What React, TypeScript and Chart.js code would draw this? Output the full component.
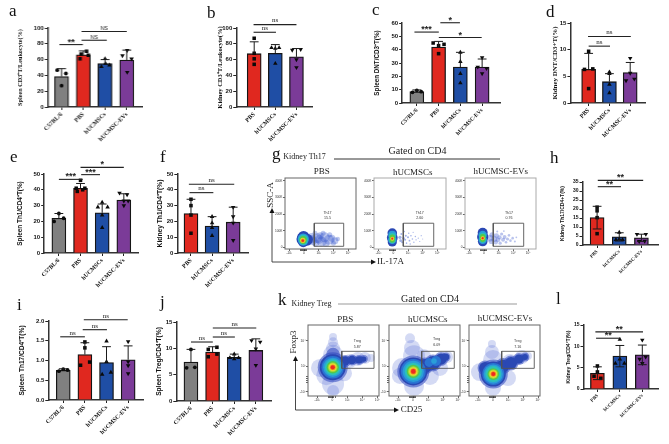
import React, { useEffect, useRef } from "react";
import { Chart, registerables } from "chart.js";
Chart.register(...registerables);

const catsFour = ["C57BL/6", "PBS", "hUCMSCs", "hUCMSC-EVs"];
const catsThree = ["PBS", "hUCMSCs", "hUCMSC-EVs"];

const aMeans = [38.5, 66, 55, 59.5];
const aSd = [10, 5, 5, 12.5];
const aPoints = [[[-0.2, 46.6], [0.2, 42.4], [0, 27]], [[-0.15, 61], [-0.1, 67], [0.15, 70.6], [0.23, 65.5]], [[0, 61], [-0.17, 51], [0.2, 53], [0.02, 55]], [[0.02, 71.8], [-0.2, 65], [0.22, 61], [0.02, 44]]];
const aSig = [[-0.1, 0.98, 79, "**"], [0.92, 2.08, 84.5, "NS"], [0.92, 3.0, 95.5, "NS"]];

const bMeans = [67.5, 68, 63.5];
const bSd = [15, 11, 10.5];
const bPoints = [[[0, 87], [0, 68], [0, 61], [0, 54]], [[-0.18, 75], [0.18, 75], [0, 74], [0, 55]], [[-0.2, 72], [0.2, 73], [0, 60], [0, 50]]];
const bSig = [[-0.03, 1.03, 94.6, "ns"], [-0.03, 2.0, 104.3, "ns"]];

const cMeans = [8.5, 42, 27, 27];
const cSd = [1.3, 4.2, 11, 6];
const cPoints = [[[-0.2, 8], [0, 9.5], [0.2, 8.5]], [[-0.25, 45], [0, 43], [0.25, 44], [0, 37]], [[0, 38], [0, 31], [0, 22], [0, 15]], [[0, 34], [-0.2, 27], [0.2, 26], [0, 22]]];
const cSig = [[-0.11, 1.01, 53.2, "***"], [1.08, 1.98, 60.2, "*"], [1.01, 2.98, 49.1, "*"]];

const dMeans = [6.3, 4, 5.7];
const dSd = [3, 1.5, 1.9];
const dPoints = [[[0, 9.7], [-0.2, 6.3], [0.2, 6.4], [0, 2.7]], [[0, 5.8], [0, 5.5], [0, 3.5], [0, 1.9]], [[0, 8.4], [0, 5.6], [-0.2, 4.2], [0.2, 4.5]]];
const dSig = [[0, 1.03, 10.66, "ns"], [-0.03, 2.03, 12.47, "ns"]];

const eMeans = [22, 41, 25.5, 33.5];
const eSd = [3, 3, 5.5, 4];
const ePoints = [[[0, 25], [0.22, 22], [-0.22, 20]], [[0, 46], [-0.2, 41], [0.2, 41], [-0.15, 39], [0.1, 40]], [[0, 32], [-0.2, 29], [0.25, 29], [0, 24], [0, 16]], [[-0.2, 38], [0.15, 37], [0, 33], [0.2, 33], [0, 30]]];
const eSig = [[0, 1.1, 46.6, "***"], [1.03, 1.9, 49.6, "***"], [1, 3, 54.2, "*"]];

const fMeans = [25, 17, 19.5];
const fSd = [9, 6, 9.5];
const fPoints = [[[0, 34], [0, 30], [0, 24], [0, 12.5]], [[0, 23], [0, 19], [0, 16], [0, 11]], [[0, 29], [0, 23], [0, 19], [0, 8]]];
const fSig = [[-0.07, 1.06, 38.2, "ns"], [-0.1, 2.05, 43.5, "ns"]];

const hMeans = [15.2, 4.5, 4];
const hSd = [6.3, 2.3, 2];
const hPoints = [[[0, 21], [0, 19], [0, 15.2], [0, 6.3]], [[0, 7], [-0.15, 3], [0.15, 3], [0, 3.2]], [[-0.2, 6], [0.2, 6], [-0.1, 2], [0.15, 2.2]]];
const hSig = [[0.03, 1.08, 32.4, "**"], [0.03, 2.08, 35.9, "**"]];

const iMeans = [0.75, 1.15, 0.95, 1.02];
const iSd = [0.04, 0.3, 0.4, 0.35];
const iPoints = [[[-0.2, 0.73], [0, 0.78], [0.2, 0.76]], [[0, 1.47], [0, 1.32], [0.22, 0.96], [-0.2, 0.88]], [[0, 1.49], [0, 0.97], [0.2, 0.7], [-0.2, 0.65]], [[0, 1.48], [0, 0.97], [0, 0.87], [0, 0.67]]];
const iSig = [[-0.14, 1, 1.6, "ns"], [0.9, 2.02, 1.78, "ns"], [0.95, 2.98, 2.03, "ns"]];

const jMeans = [7.4, 9.3, 8.3, 9.6];
const jSd = [2.4, 1, 0.6, 2.2];
const jPoints = [[[0, 9.8], [-0.2, 6.3], [0.18, 6.4]], [[0.2, 10.2], [-0.2, 9.8], [-0.2, 8.4], [0.2, 8.9]], [[0, 8.9], [-0.2, 8.2], [0.2, 8.2], [0, 8]], [[-0.2, 11.5], [0.2, 11.2], [0, 9.9], [0, 6.8]]];
const jSig = [[0, 1.01, 11.2, "ns"], [1.01, 2.03, 12.15, "ns"], [1.01, 3.02, 13.85, "ns"]];

const lMeans = [3.7, 7.7, 8];
const lSd = [1.5, 2.5, 2.3];
const lPoints = [[[0, 5.4], [0, 4], [-0.15, 3], [0.15, 2.5]], [[0, 11.6], [-0.2, 6], [0.2, 6], [0, 7]], [[0, 11.5], [-0.12, 7], [0.15, 7.5], [0, 6]]];
const lSig = [[-0.06, 1.03, 11.9, "**"], [-0.09, 2.03, 13.4, "**"]];

const groupColor: Record<string, string> = { "C57BL/6": "#808080", PBS: "#e0281f", hUCMSCs: "#1f4ea5", "hUCMSC-EVs": "#7b3b98" };
const groupMark: Record<string, any> = {
  "C57BL/6": { pointStyle: "circle", radius: 1.9, rot: 0 },
  PBS: { pointStyle: "rect", radius: 2.5, rot: 0 },
  hUCMSCs: { pointStyle: "triangle", radius: 2.6, rot: 0 },
  "hUCMSC-EVs": { pointStyle: "triangle", radius: 2.6, rot: 180 },
};
const SERIF = "'Liberation Serif'";
const SANS = "'Liberation Sans'";

const panels = [
  { title: "Spleen CD3⁺T/Leukocyte(%)", tf: SERIF, ts: 6.2, gap: 27.5, cats: catsFour, means: aMeans, sd: aSd, pts: aPoints, sig: aSig, sigFont: SANS, max: 100, step: 20, L: 48, R: 142, T: 28, B: 107, c0: 61.7, dc: 21.7, down: false, xf: 6, yf: 6 },
  { title: "Kidney CD3⁺T/Leukocyte(%)", tf: SERIF, ts: 6.5, gap: 16, cats: catsThree, means: bMeans, sd: bSd, pts: bPoints, sig: bSig, sigFont: SERIF, max: 100, step: 20, L: 236, R: 312, T: 28, B: 107, c0: 254, dc: 21.2, down: false, xf: 6, yf: 6 },
  { title: "Spleen DNT/CD3⁺T(%)", tf: SANS, ts: 6.3, gap: 25, cats: catsFour, means: cMeans, sd: cSd, pts: cPoints, sig: cSig, sigFont: SANS, max: 60, step: 10, L: 402, R: 500, T: 23, B: 103, c0: 416.7, dc: 21.8, down: false, xf: 5.6, yf: 6 },
  { title: "Kidney DNT/CD3+T(%)", tf: SERIF, ts: 6.9, gap: 15, cats: catsThree, means: dMeans, sd: dSd, pts: dPoints, sig: dSig, sigFont: SERIF, max: 15, step: 5, L: 570, R: 645, T: 23, B: 103, c0: 588.3, dc: 20.9, down: false, xf: 6, yf: 6 },
  { title: "Spleen Th1/CD4⁺T(%)", tf: SANS, ts: 6.4, gap: 24, cats: catsFour, means: eMeans, sd: eSd, pts: ePoints, sig: eSig, sigFont: SANS, max: 50, step: 10, L: 44, R: 138, T: 174, B: 253, c0: 58.7, dc: 21.7, down: false, xf: 6, yf: 6 },
  { title: "Kidney Th1/CD4⁺T(%)", tf: SANS, ts: 6.7, gap: 17, cats: catsThree, means: fMeans, sd: fSd, pts: fPoints, sig: fSig, sigFont: SERIF, max: 50, step: 10, L: 177, R: 248, T: 174, B: 253, c0: 190.7, dc: 21.2, down: false, xf: 6, yf: 6 },
  { title: "Kidney Th17/CD4+T(%)", tf: SANS, ts: 5, gap: 20, cats: catsThree, means: hMeans, sd: hSd, pts: hPoints, sig: hSig, sigFont: SANS, max: 35, step: 5, L: 582, R: 658, T: 182, B: 245, c0: 596.7, dc: 22.3, down: true, xf: 4.8, yf: 5 },
  { title: "Spleen Th17/CD4⁺T(%)", tf: SANS, ts: 6.6, gap: 26, cats: catsFour, means: iMeans, sd: iSd, pts: iPoints, sig: iSig, sigFont: SERIF, max: 2, step: 0.5, L: 48, R: 143, T: 321, B: 400, c0: 63, dc: 21.7, down: false, xf: 6, yf: 6, dec: 1 },
  { title: "Spleen Treg/CD4⁺T(%)", tf: SANS, ts: 6.6, gap: 17, cats: catsFour, means: jMeans, sd: jSd, pts: jPoints, sig: jSig, sigFont: SERIF, max: 15, step: 5, L: 176, R: 271, T: 322, B: 401, c0: 190.7, dc: 21.7, down: false, xf: 6, yf: 6 },
  { title: "Kidney Treg/CD4⁺T(%)", tf: SANS, ts: 5, gap: 15, cats: catsThree, means: lMeans, sd: lSd, pts: lPoints, sig: lSig, sigFont: SANS, max: 15, step: 5, L: 583, R: 658, T: 325, B: 389, c0: 597, dc: 22.6, down: true, xf: 4.8, yf: 5 },
];

// flow plot layers: [x, y, r]
const flowTicksXLabels = ["-10³", "0", "10³", "10⁴", "10⁵"];
const flowMinorTicks = [-0.25, -0.18, -0.11, -0.04, 0.04, 0.11, 0.18];
const fHalo = "rgba(60,85,205,0.22)", fSoft = "rgba(44,70,190,0.55)", fBlue = "#2a48b4", fMid = "#2a74d2", fLight = "#2a9ed8", fCyan = "#2cc2b8", fGreen = "#55c84a", fLime = "#a8d838", fYellow = "#ece030", fOrange = "#f09022", fRed = "#ee2a20";

const g1Tail = [[0.6, 40, 4.5], [0.9, 55, 5], [1.2, 35, 5], [1.4, 60, 5], [1.7, 45, 5], [0.8, 25, 3.5], [1.1, 70, 3.5], [1.5, 25, 3.5], [1.9, 55, 3.5], [2.1, 40, 3.5], [0.5, 65, 3.5], [2.0, 25, 2.5], [1.3, 85, 2.5], [0.75, 85, 2.5], [1.75, 75, 2.5], [2.3, 50, 2.2], [0.6, 50, 4], [1.05, 48, 4.5]];
const g2Tail = [[0.45, 60, 1.6], [0.5, 40, 1.4], [0.55, 80, 1], [0.6, 30, 1], [0.7, 55, 1.2], [0.75, 95, 0.7], [0.8, 45, 1], [0.85, 70, 1], [0.9, 25, 0.8], [1.0, 60, 1], [1.05, 85, 0.7], [1.1, 40, 0.9], [1.15, 20, 0.7], [1.2, 70, 0.8], [1.3, 50, 0.8], [1.35, 90, 0.6], [1.4, 30, 0.7], [1.5, 65, 0.7], [1.55, 45, 0.7], [1.7, 55, 0.6], [1.8, 35, 0.6], [1.9, 70, 0.6], [2.0, 50, 0.5]];
const g3Tail = [[0.4, 55, 3.4], [0.5, 35, 2.6], [0.55, 75, 2.6], [0.7, 50, 3], [0.8, 30, 2.2], [0.85, 70, 2.4], [0.95, 45, 2.4], [1.05, 60, 2.2], [1.1, 25, 1.6], [1.2, 80, 1.6], [1.3, 45, 2], [1.4, 62, 1.9], [1.5, 30, 1.3], [1.6, 50, 1.6], [1.7, 72, 1.3], [1.8, 40, 1.3], [1.95, 55, 1.3], [2.1, 35, 1], [2.2, 60, 0.9], [0.9, 95, 1], [1.35, 98, 0.9]];

const g1Layers = [
  ["rgba(60,90,205,0.34)", g1Tail],
  [fBlue, [[-0.05, 50, 6.8], [-0.03, 62, 6], [-0.05, 30, 5], [0.2, 46, 6]]],
  [fLight, [[-0.05, 50, 5.6], [-0.05, 40, 5]]],
  [fCyan, [[-0.05, 48, 4.6], [-0.05, 40, 4]]],
  [fGreen, [[-0.06, 46, 3.7], [-0.06, 38, 3]]],
  [fYellow, [[-0.08, 42, 2.6]]],
  [fOrange, [[-0.08, 41, 1.9]]],
  [fRed, [[-0.08, 40, 1.2]]],
];
const g2Layers = [
  ["rgba(70,100,210,0.5)", g2Tail],
  [fBlue, [[-0.07, 86, 4.8], [-0.07, 57, 5.4], [-0.07, 32, 4.6]]],
  [fLight, [[-0.07, 75, 4], [-0.07, 45, 4.2]]],
  [fCyan, [[-0.07, 66, 3.4], [-0.07, 45, 3.4]]],
  [fGreen, [[-0.07, 60, 2.8], [-0.07, 44, 2.6]]],
  [fYellow, [[-0.07, 52, 2]]],
  [fOrange, [[-0.07, 52, 1.4]]],
  [fRed, [[-0.07, 52, 0.8]]],
];
const g3Layers = [
  ["rgba(60,90,205,0.36)", g3Tail],
  [fBlue, [[-0.09, 88, 5], [-0.09, 62, 5.6], [-0.09, 35, 4.8]]],
  [fLight, [[-0.09, 75, 4.2], [-0.09, 45, 4.2]]],
  [fCyan, [[-0.09, 66, 3.5], [-0.09, 48, 3.4]]],
  [fGreen, [[-0.09, 62, 2.9], [-0.09, 48, 2.6]]],
  [fYellow, [[-0.09, 55, 2]]],
  [fOrange, [[-0.09, 55, 1.5]]],
  [fRed, [[-0.09, 55, 0.9]]],
];
const k1Layers = [
  [fHalo, [[0.05, 3.3, 4], [0.05, 2.9, 5], [0.05, 2.4, 7], [0.05, 1.9, 10], [0.05, -0.4, 11], [0.05, -0.95, 6], [-0.82, 0.87, 9], [-0.4, 0.3, 10], [0.78, 0.45, 8], [1.18, 1.42, 7], [1.7, 1.57, 7], [2.17, 1.65, 6], [2.57, 1.65, 4]]],
  [fSoft, [[0.03, 0.92, 15], [0.85, 1.42, 6], [1.31, 1.5, 5.5], [1.78, 1.5, 5], [2.1, 1.57, 4], [0.05, 1.9, 7]]],
  [fBlue, [[0.03, 0.92, 13], [0.85, 1.42, 4.6], [1.31, 1.5, 4.2], [1.78, 1.5, 3.6], [2.1, 1.57, 2.6]]],
  [fMid, [[0.03, 0.92, 11.2]]],
  [fLight, [[0.03, 0.92, 9.6]]],
  [fCyan, [[0.03, 0.92, 8]]],
  [fGreen, [[0.03, 0.92, 6.2]]],
  [fLime, [[0.03, 0.92, 4.8]]],
  [fYellow, [[0.03, 0.92, 3.7]]],
  [fOrange, [[0.03, 0.92, 2.9]]],
  [fRed, [[0.03, 0.92, 2.1]]],
];
const k2Layers = [
  [fHalo, [[-0.2, 3.2, 5], [-0.07, 2.44, 8], [0.07, 1.8, 11], [-0.73, 0.87, 10], [-0.87, 0.24, 8], [0.07, -0.55, 10], [1.13, 0.24, 9], [1.8, 0.87, 8], [0.73, 1.8, 7], [2.27, 1.73, 6]]],
  [fSoft, [[0.02, 0.6, 16], [0.8, 1.02, 8.5], [1.33, 1.26, 8.5], [1.87, 1.57, 7], [2.2, 1.73, 4.5]]],
  [fBlue, [[0.02, 0.6, 14], [0.8, 1.02, 7], [1.33, 1.26, 7], [1.87, 1.57, 5.6], [2.2, 1.73, 3.2]]],
  [fMid, [[0.02, 0.6, 12.4], [1.07, 1.3, 4.4], [1.53, 1.42, 5]]],
  [fLight, [[0.02, 0.6, 10.6], [1.4, 1.42, 2.8]]],
  [fCyan, [[0.02, 0.6, 8.6]]],
  [fGreen, [[0.02, 0.6, 6.6]]],
  [fLime, [[0.02, 0.6, 5.2]]],
  [fYellow, [[0.02, 0.6, 4]]],
  [fOrange, [[0.02, 0.6, 3.1]]],
  [fRed, [[0.02, 0.6, 2.3]]],
];
const k3Layers = [
  [fHalo, [[-0.07, 2.76, 4], [-0.07, 2.13, 7], [0, 1.5, 10], [-0.87, 0.55, 9], [0, -0.7, 8], [1, 0.08, 8], [1.13, 1.34, 8], [1.93, 1.73, 7], [2.33, 1.81, 4]]],
  [fSoft, [[0.02, 0.39, 14.5], [-0.53, 0.87, 7.5], [0.67, 1.02, 8], [1.2, 1.26, 7.5], [1.73, 1.57, 6], [2.13, 1.73, 4.5]]],
  [fBlue, [[0.02, 0.39, 12.5], [-0.53, 0.87, 6], [0.67, 1.02, 6.4], [1.2, 1.26, 6], [1.73, 1.57, 4.6], [2.13, 1.73, 3]]],
  [fMid, [[0.02, 0.39, 11]]],
  [fLight, [[0.02, 0.39, 9.6]]],
  [fCyan, [[0.02, 0.39, 8]]],
  [fGreen, [[0.02, 0.39, 5.9]]],
  [fLime, [[0.02, 0.39, 4.6]]],
  [fYellow, [[0.02, 0.39, 3.6]]],
  [fOrange, [[0.02, 0.39, 2.8]]],
  [fRed, [[0.02, 0.39, 2]]],
];

const gYTicks = [0, 100, 200, 300, 400];
const gYLabels = ["0", "100K", "200K", "300K", "400K"];
const kYTicks = [-1, 0, 1, 2, 3, 4];
const kYLabels = ["-10²", "0", "10²", "10³", "10⁴", "10⁵"];
const xTicks = [-1, 0, 1, 2, 3];

const flows = [
  { layers: g1Layers, gate: [0.7, 2.7, 6, 145], text: ["Th17", "15.5"], tx: 1.6, ty: [206, 175], L: 285, R: 356, T: 178, B: 249, x0: 304, xu: 14.7, y0: 247.3, yu: 0.166, yt: gYTicks, yl: gYLabels, box: "#666", minorY: false },
  { layers: g2Layers, gate: [0.68, 2.75, 6, 145], text: ["Th17", "2.60"], tx: 1.8, ty: [206, 175], L: 374, R: 446, T: 178, B: 249, x0: 393.3, xu: 14.7, y0: 247.3, yu: 0.166, yt: gYTicks, yl: gYLabels, box: "#aaa", minorY: false },
  { layers: g3Layers, gate: [0.63, 2.7, 6, 145], text: ["Th17", "0.76"], tx: 1.7, ty: [206, 175], L: 465, R: 536, T: 178, B: 249, x0: 484, xu: 14.7, y0: 247.3, yu: 0.166, yt: gYTicks, yl: gYLabels, box: "#aaa", minorY: false },
  { layers: k1Layers, gate: [0.63, 2.78, 0.84, 2.18], text: ["Treg", "5.87"], tx: 1.67, ty: [2.97, 2.5], L: 308, R: 379, T: 325, B: 396, x0: 332.3, xu: 15, y0: 379, yu: 12.7, yt: kYTicks, yl: kYLabels, box: "#666", minorY: true },
  { layers: k2Layers, gate: [0.58, 2.75, 0.84, 2.18], text: ["Treg", "6.09"], tx: 1.58, ty: [3.15, 2.68], L: 389, R: 460, T: 325, B: 396, x0: 413, xu: 15, y0: 379, yu: 12.7, yt: kYTicks, yl: kYLabels, box: "#666", minorY: true },
  { layers: k3Layers, gate: [0.58, 2.75, 0.84, 2.18], text: ["Treg", "7.16"], tx: 1.65, ty: [2.97, 2.5], L: 469, R: 540, T: 325, B: 396, x0: 493, xu: 15, y0: 379, yu: 12.7, yt: kYTicks, yl: kYLabels, box: "#666", minorY: true },
];

function fixAxis(size: number, prop: "width" | "height") {
  return (s: any) => {
    s[prop] = size;
    s.paddingLeft = s.paddingRight = s.paddingTop = s.paddingBottom = 0;
  };
}

const barPlugin = (p: any) => ({
  id: "marks",
  afterDatasetsDraw(chart: any) {
    const { ctx, scales } = chart;
    const x = scales.x, y = scales.y;
    ctx.save();
    ctx.strokeStyle = "#1a1a1a";
    ctx.lineWidth = 1;
    p.means.forEach((m: number, i: number) => {
      const px = x.getPixelForValue(i);
      const hi = y.getPixelForValue(m + p.sd[i]);
      const lo = y.getPixelForValue(p.down ? m - p.sd[i] : m);
      ctx.beginPath();
      ctx.moveTo(px, lo); ctx.lineTo(px, hi);
      ctx.moveTo(px - 4.4, hi); ctx.lineTo(px + 4.4, hi);
      if (p.down) { ctx.moveTo(px - 4.4, lo); ctx.lineTo(px + 4.4, lo); }
      ctx.stroke();
    });
    ctx.textAlign = "center";
    p.sig.forEach((s: any) => {
      const py = y.getPixelForValue(s[2]);
      const x1 = x.getPixelForValue(s[0]), x2 = x.getPixelForValue(s[1]);
      ctx.strokeStyle = "#222";
      ctx.lineWidth = 1.1;
      ctx.beginPath(); ctx.moveTo(x1, py); ctx.lineTo(x2, py); ctx.stroke();
      const star = s[3].includes("*");
      ctx.fillStyle = "#222";
      ctx.font = star ? `bold 9px ${SANS}` : `${s[3] === "NS" ? 5.5 : 7}px ${p.sigFont}`;
      ctx.textBaseline = star ? "top" : "bottom";
      ctx.fillText(s[3], (x1 + x2) / 2, star ? py - 7 : py - 0.5);
    });
    ctx.restore();
  },
});

const flowPlugin = (f: any) => ({
  id: "flowBox",
  afterDatasetsDraw(chart: any) {
    const { ctx, chartArea: a, scales } = chart;
    ctx.save();
    ctx.strokeStyle = f.box;
    ctx.lineWidth = 1;
    ctx.strokeRect(a.left, a.top, a.right - a.left, a.bottom - a.top);
    ctx.fillStyle = "#333";
    ctx.font = `3.6px ${SANS}`;
    ctx.textAlign = "center";
    ctx.textBaseline = "middle";
    f.text.forEach((t: string, i: number) => ctx.fillText(t, scales.x.getPixelForValue(f.tx), scales.y.getPixelForValue(f.ty[i])));
    ctx.restore();
  },
});

function makeBar(canvas: HTMLCanvasElement, p: any, yw: number, padTop: number, xh: number) {
  const datasets: any[] = [
    {
      type: "bar",
      order: 10,
      data: p.means.map((m: number, i: number) => ({ x: i, y: m })),
      backgroundColor: p.cats.map((c: string) => groupColor[c]),
      borderColor: "#151515",
      borderWidth: 1.3,
      barThickness: 14,
    },
  ];
  p.cats.forEach((c: string, i: number) => {
    const m = groupMark[c];
    datasets.push({
      type: "scatter",
      order: 1,
      data: p.pts[i].map((q: number[]) => ({ x: i + q[0], y: q[1] })),
      pointStyle: m.pointStyle,
      pointRadius: m.radius,
      pointRotation: m.rot,
      pointBackgroundColor: "#0a0a0a",
      pointBorderWidth: 0,
      clip: false,
    });
  });
  return new Chart(canvas, {
    type: "bar",
    data: { datasets },
    plugins: [barPlugin(p)],
    options: {
      animation: false,
      responsive: false,
      devicePixelRatio: 1,
      events: [],
      layout: { autoPadding: false, padding: { top: padTop, right: 4, left: 0, bottom: 0 } },
      plugins: { legend: { display: false }, tooltip: { enabled: false } },
      scales: {
        x: {
          type: "linear",
          offset: false,
          min: (p.L - p.c0) / p.dc,
          max: (p.R - p.c0) / p.dc,
          afterBuildTicks: (s: any) => { s.ticks = p.cats.map((_: string, i: number) => ({ value: i })); },
          afterFit: fixAxis(xh, "height"),
          grid: { display: true, offset: false, drawOnChartArea: false, drawTicks: true, tickLength: 3, color: "#222", lineWidth: 1 },
          border: { display: true, color: "#333", width: 1.5 },
          ticks: {
            autoSkip: false, maxRotation: 45, minRotation: 45, padding: 1, color: "#111",
            font: { family: SERIF, size: p.xf, weight: "bold" },
            callback: (v: any) => p.cats[Math.round(v)] ?? "",
          },
        },
        y: {
          min: 0, max: p.max,
          afterFit: fixAxis(yw, "width"),
          grid: { display: true, drawOnChartArea: false, drawTicks: true, tickLength: 3, color: "#222", lineWidth: 1 },
          border: { display: true, color: "#333", width: 1.5 },
          title: { display: true, text: p.title, color: "#111", padding: 0, font: { family: p.tf, size: p.ts, weight: "bold", lineHeight: 1 } },
          ticks: {
            stepSize: p.step, padding: 1, color: "#111",
            font: { family: SANS, size: p.yf, weight: "bold" },
            callback: (v: any) => (p.dec ? Number(v).toFixed(p.dec) : String(v)),
          },
        },
      },
    } as any,
  });
}

function makeFlow(canvas: HTMLCanvasElement, f: any) {
  const n = f.layers.length;
  const datasets: any[] = f.layers.map((l: any, i: number) => ({
    type: "bubble",
    order: n - i + 1,
    data: l[1].map((q: number[]) => ({ x: q[0], y: q[1], r: q[2] })),
    backgroundColor: l[0],
    borderWidth: 0,
  }));
  const [x1, x2, y1, y2] = f.gate;
  datasets.push({
    type: "line",
    order: 0,
    data: [{ x: x1, y: y1 }, { x: x2, y: y1 }, { x: x2, y: y2 }, { x: x1, y: y2 }, { x: x1, y: y1 }],
    borderColor: "#555",
    borderWidth: 0.9,
    pointRadius: 0,
    tension: 0,
  });
  const tickFont = { family: SANS, size: 3.2 };
  return new Chart(canvas, {
    type: "bubble",
    data: { datasets },
    plugins: [flowPlugin(f)],
    options: {
      animation: false,
      responsive: false,
      devicePixelRatio: 1,
      events: [],
      layout: { autoPadding: false, padding: { top: 3, right: 4, left: 0, bottom: 0 } },
      plugins: { legend: { display: false }, tooltip: { enabled: false } },
      scales: {
        x: {
          type: "linear",
          min: (f.L - f.x0) / f.xu,
          max: (f.R - f.x0) / f.xu,
          afterBuildTicks: (s: any) => { s.ticks = [...xTicks, ...flowMinorTicks].map((v) => ({ value: v })); },
          afterFit: fixAxis(12, "height"),
          grid: { display: true, drawOnChartArea: false, tickLength: 2, color: "#222", lineWidth: 0.7 },
          border: { display: false },
          ticks: {
            autoSkip: false, maxRotation: 0, minRotation: 0, padding: 0.5, color: "#333", font: tickFont,
            callback: (v: any) => { const i = xTicks.indexOf(v); return i >= 0 ? flowTicksXLabels[i] : ""; },
          },
        },
        y: {
          type: "linear",
          min: (f.y0 - f.B) / f.yu,
          max: (f.y0 - f.T) / f.yu,
          afterBuildTicks: (s: any) => { s.ticks = [...f.yt, ...(f.minorY ? flowMinorTicks : [])].map((v: number) => ({ value: v })); },
          afterFit: fixAxis(12, "width"),
          grid: { display: true, drawOnChartArea: false, tickLength: 2, color: "#222", lineWidth: 0.7 },
          border: { display: false },
          ticks: {
            padding: 0.5, color: "#333", font: tickFont,
            callback: (v: any) => { const i = f.yt.indexOf(v); return i >= 0 ? f.yl[i] : ""; },
          },
        },
      },
    } as any,
  });
}

const letters: [string, number, number][] = [
  ["a", 9, 16], ["b", 207, 18], ["c", 372, 15], ["d", 546, 17], ["e", 10, 162], ["f", 160, 162],
  ["g", 272, 159], ["h", 550, 163], ["i", 17, 310], ["j", 160, 307], ["k", 278, 305], ["l", 556, 304],
];
const labels10: [string, number, number, number][] = [
  ["PBS", 321.7, 172, 9], ["hUCMSCs", 412.7, 173, 9], ["hUCMSC-EVs", 500.7, 172, 9],
  ["PBS", 345.3, 320, 9], ["hUCMSCs", 427.7, 320, 9], ["hUCMSC-EVs", 505, 318.7, 9],
  ["Gated on CD4", 417.5, 152, 10], ["Gated on CD4", 430, 299.5, 10],
  ["Kidney Th17", 304.5, 157, 8], ["Kidney Treg", 311.5, 304, 8],
  ["IL-17A", 390.5, 262, 9], ["CD25", 411.5, 410, 9],
];

const PanelCanvas = ({ setup, style, w, h }: any) => {
  const ref = useRef<HTMLCanvasElement>(null);
  useEffect(() => {
    const c = setup(ref.current);
    return () => c.destroy();
  }, []);
  return <canvas ref={ref} width={w} height={h} style={{ position: "absolute", display: "block", ...style }} />;
};

export default function App() {
  return (
    <div style={{ position: "absolute", left: 0, top: 0, width: 669, height: 444, overflow: "hidden", background: "#fff" }}>
      {panels.map((p: any, i) => {
        const yw = p.gap + p.ts / 2;
        const padTop = 16;
        const xh = Math.min(44, 444 - p.B);
        const leftPx = p.L - yw;
        return (
          <PanelCanvas
            key={i}
            w={p.R - p.L + yw + 4}
            h={p.B - p.T + padTop + xh}
            style={{ left: leftPx, top: p.T - padTop, width: p.R - p.L + yw + 4, height: p.B - p.T + padTop + xh }}
            setup={(c: HTMLCanvasElement) => makeBar(c, p, yw, padTop, xh)}
          />
        );
      })}
      {flows.map((f, i) => (
        <PanelCanvas
          key={i}
          w={f.R - f.L + 16}
          h={f.B - f.T + 15}
          style={{ left: f.L - 12, top: f.T - 3, width: f.R - f.L + 16, height: f.B - f.T + 15 }}
          setup={(c: HTMLCanvasElement) => makeFlow(c, f)}
        />
      ))}
      <svg width={669} height={444} style={{ position: "absolute", left: 0, top: 0, pointerEvents: "none" }}>
        {letters.map(([t, x, y]) => (
          <text key={t} x={x} y={y} fontFamily={SERIF} fontSize={17} fill="#111">{t}</text>
        ))}
        {labels10.map(([t, x, y, s], i) => (
          <text key={i} x={x} y={y} fontFamily={SERIF} fontSize={s} textAnchor="middle" dominantBaseline="middle" fill="#222">{t}</text>
        ))}
        <text transform="translate(271,195) rotate(-90)" fontFamily={SERIF} fontSize={9} textAnchor="middle" dominantBaseline="middle" fill="#222">SSC-A</text>
        <text transform="translate(294,342) rotate(-90)" fontFamily={SERIF} fontSize={9} textAnchor="middle" dominantBaseline="middle" fill="#222">Foxp3</text>
        <line x1={334} y1={159} x2={500} y2={159} stroke="#333" strokeWidth={1} />
        <line x1={338} y1={304} x2={517} y2={304} stroke="#999" strokeWidth={1.2} />
        <path d="M272 212 V262 H372" fill="none" stroke="#333" strokeWidth={0.9} />
        <polygon points="272,208 269.5,213 274.5,213" fill="#111" />
        <polygon points="376,262 371,259.5 371,264.5" fill="#111" />
        <path d="M295.5 360 V410 H395" fill="none" stroke="#333" strokeWidth={0.9} />
        <polygon points="295.5,356 293,361 298,361" fill="#111" />
        <polygon points="399,410 394,407.5 394,412.5" fill="#111" />
      </svg>
    </div>
  );
}
